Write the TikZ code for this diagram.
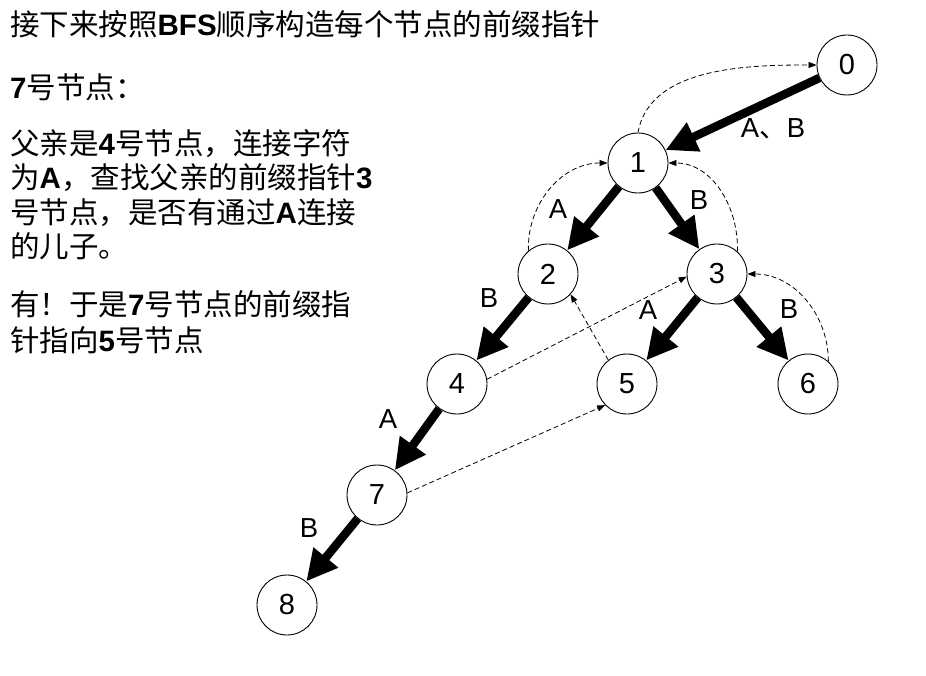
\documentclass[tikz,border=0pt]{standalone}
\usepackage{fontspec}
\setmainfont{Noto Sans CJK SC}
\newfontfamily\arial{Liberation Sans}
\newfontfamily\cjkf{Noto Sans CJK SC}
\usetikzlibrary{arrows.meta}
\newcommand{\lb}[1]{{\arial\bfseries #1}}
\begin{document}
\begin{tikzpicture}[x=1pt,y=1pt,
  tnode/.style={circle,draw,line width=0.9pt,minimum size=60pt,inner sep=0pt,font=\arial\fontsize{29}{29}\selectfont},
  tree/.style={line width=8.5pt,-{Triangle[length=31pt,width=30pt]}},
  fail/.style={line width=0.8pt,dash pattern=on 5pt off 3pt,-{Triangle[length=8pt,width=6pt]}},
  lab/.style={inner sep=0pt,font=\arial\fontsize{27.5}{27.5}\selectfont},
  txt/.style={inner sep=0pt,anchor=base west,font=\fontsize{29.5}{34}\selectfont}]
\useasboundingbox (0,0) rectangle (926,-676);

% text
\node[txt] (t1) at (10,-36) {接下来按照\lb{BFS}顺序构造每个节点的前缀指针};
\node[txt] (t2) at (10,-99) {\lb{7}号节点：};
\node[txt] (t3) at (10,-155) {父亲是\lb{4}号节点，连接字符};
\node[txt] (t4) at (10,-189) {为\lb{A}，查找父亲的前缀指针\lb{3}};
\node[txt] (t5) at (10,-224) {号节点，是否有通过\lb{A}连接};
\node[txt] (t6) at (10,-258) {的儿子。};
\node[txt] (t7) at (10,-316) {有！于是\lb{7}号节点的前缀指};
\node[txt] (t8) at (10,-351) {针指向\lb{5}号节点};

% nodes
\node[tnode] (n0) at (847,-65) {0};
\node[tnode] (n1) at (638,-163) {1};
\node[tnode] (n2) at (548,-274) {2};
\node[tnode] (n3) at (717,-274) {3};
\node[tnode] (n4) at (457,-384) {4};
\node[tnode] (n5) at (627,-384) {5};
\node[tnode] (n6) at (808,-384) {6};
\node[tnode] (n7) at (377,-495) {7};
\node[tnode] (n8) at (287,-605) {8};

% tree edges
\draw[tree] (n0) -- (n1);
\draw[tree] (n1) -- (n2);
\draw[tree] (n1) -- (n3);
\draw[tree] (n2) -- (n4);
\draw[tree] (n3) -- (n5);
\draw[tree] (n3) -- (n6);
\draw[tree] (n4) -- (n7);
\draw[tree] (n7) -- (n8);

% labels
\node[lab] (l01) at (773,-129) {A{\cjkf 、}B};
\node[lab] (l12) at (558,-209) {A};
\node[lab] (l13) at (699,-200) {B};
\node[lab] (l24) at (489,-298) {B};
\node[lab] (l35) at (648,-310) {A};
\node[lab] (l36) at (789,-309) {B};
\node[lab] (l47) at (388,-419) {A};
\node[lab] (l78) at (309,-528) {B};

% fail pointers
\draw[fail] (n1.north) to[out=80,in=180,looseness=0.9] (n0.west);
\draw[fail] (n2.130) to[out=92,in=180] (n1.west);
\draw[fail] (n3.48) to[out=88,in=0] (n1.east);
\draw[fail] (n6.48) to[out=90,in=0] (n3.east);
\draw[fail] (n4.9) -- (n3.185);
\draw[fail] (n5.128) -- (n2.-42);
\draw[fail] (n7.4) -- (n5.224);
\end{tikzpicture}
\end{document}
